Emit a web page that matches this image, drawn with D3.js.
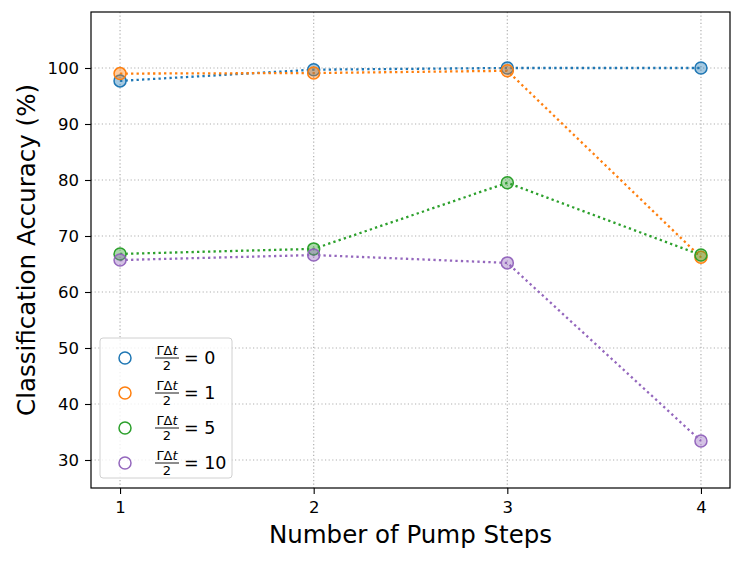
<!DOCTYPE html>
<html>
<head>
<meta charset="utf-8">
<script src="https://cdn.jsdelivr.net/npm/d3@7"></script>
<style>
  body { margin: 0; background: #fff; }
  svg { font-family: "DejaVu Sans", sans-serif; }
</style>
</head>
<body>
<svg id="vis" width="742" height="564"></svg>
<script>
'use strict';

var steps = [1, 2, 3, 4];
var gammaLabels = ['0', '1', '5', '10'];
var acc0 = [97.7, 99.7, 100.0, 100.0];
var acc1 = [99.0, 99.1, 99.5, 66.2];
var acc5 = [66.8, 67.7, 79.5, 66.6];
var acc10 = [65.7, 66.6, 65.2, 33.4];
var yTicks = [30, 40, 50, 60, 70, 80, 90, 100];
var colors = ['#1f77b4', '#ff7f0e', '#2ca02c', '#9467bd'];

(function () {
    var series = [acc0, acc1, acc5, acc10];
    var svg = d3.select('#vis');
    var margin = {top: 12, right: 12, bottom: 76, left: 91};
    var width = 742 - margin.left - margin.right;
    var height = 564 - margin.top - margin.bottom;

    var x = d3.scaleLinear().domain([0.85, 4.15]).range([0, width]);
    var y = d3.scaleLinear().domain([25, 110]).range([height, 0]);

    var g = svg.append('g')
        .attr('transform', 'translate(' + margin.left + ',' + margin.top + ')');

    // grid
    g.append('g').selectAll('line').data(steps).enter().append('line')
        .attr('x1', function (d) { return x(d); })
        .attr('x2', function (d) { return x(d); })
        .attr('y1', 0).attr('y2', height)
        .attr('stroke', '#b0b0b0').attr('stroke-width', 1.2)
        .attr('stroke-dasharray', '1.2,2.4');
    g.append('g').selectAll('line').data(yTicks).enter().append('line')
        .attr('y1', function (d) { return y(d); })
        .attr('y2', function (d) { return y(d); })
        .attr('x1', 0).attr('x2', width)
        .attr('stroke', '#b0b0b0').attr('stroke-width', 1.2)
        .attr('stroke-dasharray', '1.2,2.4');

    var line = d3.line()
        .x(function (d, i) { return x(steps[i]); })
        .y(function (d) { return y(d); });

    series.forEach(function (s, k) {
        g.append('path')
            .datum(s)
            .attr('d', line)
            .attr('fill', 'none')
            .attr('stroke', colors[k])
            .attr('stroke-width', 2.3)
            .attr('stroke-dasharray', '2.3,3.2');
    });
    series.forEach(function (s, k) {
        g.selectAll('.m' + k).data(s).enter().append('circle')
            .attr('class', 'm' + k)
            .attr('cx', function (d, i) { return x(steps[i]); })
            .attr('cy', function (d) { return y(d); })
            .attr('r', 6)
            .attr('fill', colors[k]).attr('fill-opacity', 0.4)
            .attr('stroke', colors[k]).attr('stroke-width', 1.5);
    });

    // axes
    var xAxis = g.append('g')
        .attr('transform', 'translate(0,' + height + ')')
        .call(d3.axisBottom(x).tickValues(steps).tickFormat(d3.format('d')).tickSizeOuter(0).tickSize(6));
    var yAxis = g.append('g')
        .call(d3.axisLeft(y).tickValues(yTicks).tickSizeOuter(0).tickSize(6));
    [xAxis, yAxis].forEach(function (a) {
        a.select('.domain').remove();
        a.selectAll('text').attr('font-size', 16.5).attr('fill', '#000')
            .attr('font-family', '"DejaVu Sans", sans-serif');
        a.selectAll('line').attr('stroke', '#000').attr('stroke-width', 1.1);
    });
    xAxis.selectAll('text').attr('y', 25).attr('dy', 0);
    yAxis.selectAll('text').attr('x', -12);

    g.append('rect')
        .attr('width', width).attr('height', height)
        .attr('fill', 'none').attr('stroke', '#000').attr('stroke-width', 1.2);

    // labels
    svg.append('text')
        .attr('x', margin.left + width / 2).attr('y', 543)
        .attr('text-anchor', 'middle').attr('font-size', 24.5)
        .text('Number of Pump Steps');
    svg.append('text')
        .attr('transform', 'translate(35,' + (margin.top + height / 2) + ') rotate(-90)')
        .attr('text-anchor', 'middle').attr('font-size', 24.5)
        .text('Classification Accuracy (%)');

    // legend
    var lg = g.append('g').attr('transform', 'translate(9,326)');
    lg.append('rect')
        .attr('width', 132).attr('height', 140).attr('rx', 3)
        .attr('fill', '#fff').attr('fill-opacity', 0.8)
        .attr('stroke', '#d0d0d0');
    gammaLabels.forEach(function (lab, k) {
        var row = lg.append('g').attr('transform', 'translate(0,' + (20 + k * 35) + ')');
        row.append('circle').attr('cx', 25).attr('cy', 0).attr('r', 6)
            .attr('fill', 'none').attr('stroke', colors[k]).attr('stroke-width', 1.5);
        var num = row.append('text').attr('x', 67).attr('y', -3)
            .attr('text-anchor', 'middle').attr('font-size', 13);
        num.append('tspan').text('\u0393\u0394');
        num.append('tspan').attr('font-style', 'italic').text('t');
        row.append('line').attr('x1', 55).attr('x2', 79).attr('y1', 0).attr('y2', 0)
            .attr('stroke', '#000').attr('stroke-width', 0.9);
        row.append('text').attr('x', 67).attr('y', 12)
            .attr('text-anchor', 'middle').attr('font-size', 13).text('2');
        row.append('text').attr('x', 84).attr('y', 6)
            .attr('font-size', 17.5).text('= ' + lab);
    });
})();
</script>
</body>
</html>
